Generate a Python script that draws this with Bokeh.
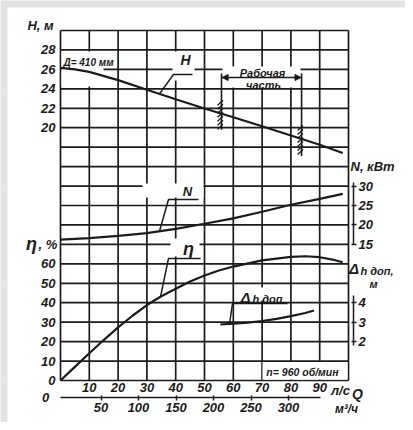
import numpy as np
from bokeh.plotting import figure
from bokeh.models import Range1d, LinearAxis, FixedTicker, Arrow, NormalHead
from bokeh.core.properties import value
from bokeh.embed import file_html
from bokeh.resources import INLINE

# ---------------- data ----------------
q_head = [0, 5, 10, 20, 30, 40, 50, 60, 70, 80, 90, 98]
head_m = [26.15, 26.0, 25.75, 24.9, 23.9, 22.93, 21.98, 21.07, 20.15, 19.2, 18.25, 17.4]

q_power = [0, 10, 20, 30, 40, 50, 60, 70, 80, 90, 98]
power_kw = [16.2, 16.6, 17.2, 17.9, 19.0, 20.3, 21.7, 23.4, 25.2, 26.7, 28.0]

q_eff = [0, 5, 10, 15, 20, 25, 30, 35, 40, 45, 50, 55, 60, 70, 80, 85, 90, 95, 98]
eff_pct = [0, 7.0, 14.0, 20.8, 27.3, 33.3, 38.8, 43.3, 47.2, 50.9, 54.0, 56.6, 58.6, 61.8,
           63.6, 63.9, 63.4, 62.0, 60.8]

q_npsh = [55.5, 60, 65, 70, 75, 80, 85, 88]
npsh_m = [2.88, 2.92, 2.98, 3.06, 3.17, 3.31, 3.47, 3.6]

work_zone_q = [55.9, 83.7]          # "Рабочая часть" limits, л/с

q_ticks = [10, 20, 30, 40, 50, 60, 70, 80, 90]
q_m3h_ticks = [50, 100, 150, 200, 250, 300]
head_ticks = [20, 22, 24, 26, 28]
eff_ticks = [0, 10, 20, 30, 40, 50, 60]
power_ticks = [15, 20, 25, 30]
npsh_ticks = [2, 3, 4]

grid_q = list(range(0, 101, 10))     # vertical grid lines (л/с)
grid_rows = list(range(0, 19))       # horizontal grid rows

# ---------------- layout (page pixels) ----------------
PAGE = 0
W, H = 405, 422
CX0, CX1 = 60, 348       # chart frame left/right (page px)
CY0, CY1 = 30, 380       # chart frame top/bottom (page px)
KX = (CX1 - CX0) / 100.0
KY = (CY1 - CY0) / 18.0

def qx(xp):
    return (xp - CX0) / KX

def gy(yp):
    return (CY1 - yp) / KY

x_start, x_end = qx(PAGE), qx(PAGE + W)
y_start, y_end = gy(PAGE + H), gy(PAGE)

# each scale: value at grid row 0 and value per grid row
SC_H = (-6.0, 2.0)
SC_ETA = (0.0, 10.0)
SC_N = (-20.0, 5.0)
SC_DH = (0.0, 1.0)

def rng(sc):
    return Range1d(sc[0] + sc[1] * y_start, sc[0] + sc[1] * y_end)

def to_g(v, sc):
    return (v - sc[0]) / sc[1]

def from_g(g, sc):
    return sc[0] + sc[1] * g

# m3/h axis calibration as drawn on the reference
M0, MK = 63.0, 0.75
def mx(xp):
    return (xp - M0) / MK

FONT = "Liberation Sans"
INK = "#1b1b1b"
PAPER_EDGE = "#e3e3e3"

p = figure(width=W, height=H, x_range=Range1d(x_start, x_end), y_range=Range1d(y_start, y_end),
           output_backend="svg", toolbar_location=None, x_axis_location=None, y_axis_location=None,
           min_border=0, outline_line_color=None, background_fill_color=PAPER_EDGE,
           border_fill_color=PAPER_EDGE)
p.extra_y_ranges = {"H": rng(SC_H), "eta": rng(SC_ETA), "N": rng(SC_N), "dh": rng(SC_DH)}
p.extra_x_ranges = {"m3h": Range1d(mx(PAGE), mx(PAGE + W))}

# white sheet
p.quad(left=[qx(7)], right=[qx(408)], top=[gy(7)], bottom=[gy(427)],
       fill_color="white", line_color=None)

# ---------------- grid ----------------
p.segment(x0=grid_q, y0=[0] * len(grid_q), x1=grid_q, y1=[18] * len(grid_q),
          line_color=INK, line_width=1.7)
p.segment(x0=[0] * len(grid_rows), y0=grid_rows, x1=[100] * len(grid_rows), y1=grid_rows,
          line_color=INK, line_width=1.7)

# white gaps in the grid behind captions (page px boxes)
gaps = [(61, 103, 51, 86), (172, 194, 51, 80), (222, 300, 66, 87), (142, 203, 183, 197),
        (170, 199, 238, 256), (236, 286, 287, 300), (262, 347, 361.5, 379)]
p.quad(left=[qx(g[0]) for g in gaps], right=[qx(g[1]) for g in gaps],
       top=[gy(g[2]) for g in gaps], bottom=[gy(g[3]) for g in gaps],
       fill_color="white", line_color=None)

# ---------------- curves ----------------
p.line(q_head, head_m, y_range_name="H", line_color=INK, line_width=2.2)
p.line(q_power, power_kw, y_range_name="N", line_color=INK, line_width=2.2)
p.line(q_eff, eff_pct, y_range_name="eta", line_color=INK, line_width=2.2)
p.line(q_npsh, npsh_m, y_range_name="dh", line_color=INK, line_width=2.2)

# ---------------- leaders ----------------
def leader(x_end_p, y_p, x_knee_p, x_curve_p, qs, vs, sc):
    qc = qx(x_curve_p)
    gc = to_g(np.interp(qc, qs, vs), sc)
    p.line([qx(x_end_p), qx(x_knee_p), qc], [gy(y_p), gy(y_p), gc],
           line_color=INK, line_width=1.5)

leader(192, 74, 173, 159, q_head, head_m, SC_H)
leader(198, 199, 168, 159, q_power, power_kw, SC_N)
leader(200, 258, 168, 160, q_eff, eff_pct, SC_ETA)
leader(287, 303, 232, 229, q_npsh, npsh_m, SC_DH)

# ---------------- working zone markers ----------------
for i, qz in enumerate(work_zone_q):
    gc = to_g(np.interp(qz, q_head, head_m), SC_H)
    below = 17 if i else 16
    p.line([qz, qz], [gy(73), gc - below / KY], line_color=INK, line_width=1.6)
    ys = np.arange(-11, below, 4.0)
    xs0 = [qz - 4 / KX] * len(ys)
    xs1 = [qz + 1.5 / KX] * len(ys)
    y0 = [gc - (y + 2.5) / KY for y in ys]
    y1 = [gc - (y - 2.5) / KY for y in ys]
    p.segment(x0=xs0, y0=y0, x1=xs1, y1=y1, line_color=INK, line_width=1.3)

p.add_layout(Arrow(start=NormalHead(size=6, fill_color=INK, line_color=INK),
                   end=NormalHead(size=6, fill_color=INK, line_color=INK),
                   x_start=work_zone_q[0] + 0.2, y_start=gy(77),
                   x_end=work_zone_q[1] - 0.2, y_end=gy(77),
                   line_color=INK, line_width=1.3))

# ---------------- texts ----------------
def label(xp, yp, txt, size=13, align="center", style="bold italic"):
    p.text(x=[qx(xp)], y=[gy(yp)], text=[txt], text_font=value(FONT),
           text_font_size=value(f"{size}px"), text_font_style=style,
           text_align=align, text_baseline="middle", text_color=INK)

label(40, 25, "H, м", 13)
label(31, 243, "η", 18)
label(38, 244, ", %", 13, "left")
label(88, 62, "Д= 410 мм", 10)
label(185, 59, "H", 14)
label(262, 72, "Рабочая", 11)
label(263, 84, "часть", 11)
label(187, 191, "N", 13)
label(188, 248, "η", 18)
label(245, 297, "Δ", 15)
label(252, 298, "h доп", 11, "left")
label(302, 371, "n= 960 об/мин", 10.5)
label(350, 166, "N, кВт", 13, "left")
label(353.5, 268, "Δ", 15)
label(360, 270, "h доп,", 11, "left")
label(373, 283, "м", 11)
label(45, 397, "0", 13)
label(340, 390, "л/с", 13)
label(357, 393, "Q", 14)
label(346, 408, "м³/ч", 12)

# ---------------- axes ----------------
def style_axis(ax, size="13px"):
    ax.major_label_text_font = FONT
    ax.major_label_text_font_style = "bold italic"
    ax.major_label_text_font_size = size
    ax.major_label_text_color = INK
    ax.minor_tick_line_color = None
    ax.axis_line_color = INK
    ax.axis_line_width = 1.5
    ax.major_tick_line_color = INK
    ax.major_tick_line_width = 1.5

def plain(ax, standoff):
    ax.axis_line_color = None
    ax.major_tick_line_color = None
    ax.major_tick_in = 0
    ax.major_tick_out = 0
    ax.major_label_standoff = standoff

ax_h = LinearAxis(y_range_name="H", ticker=FixedTicker(ticks=head_ticks), fixed_location=0)
style_axis(ax_h); plain(ax_h, 5)
p.add_layout(ax_h, "left")

ax_eta = LinearAxis(y_range_name="eta", ticker=FixedTicker(ticks=eff_ticks), fixed_location=0)
style_axis(ax_eta); plain(ax_eta, 5)
p.add_layout(ax_eta, "left")

ax_n = LinearAxis(y_range_name="N", ticker=FixedTicker(ticks=power_ticks), fixed_location=qx(353),
                  bounds=(from_g(gy(244), SC_N), from_g(gy(182), SC_N)))
style_axis(ax_n)
ax_n.major_tick_in = 2; ax_n.major_tick_out = 3; ax_n.major_label_standoff = 2
p.add_layout(ax_n, "right")

ax_dh = LinearAxis(y_range_name="dh", ticker=FixedTicker(ticks=npsh_ticks), fixed_location=qx(353),
                   bounds=(from_g(gy(345), SC_DH), from_g(gy(295), SC_DH)))
style_axis(ax_dh)
ax_dh.major_tick_in = 2; ax_dh.major_tick_out = 3; ax_dh.major_label_standoff = 2
p.add_layout(ax_dh, "right")

ax_q = LinearAxis(ticker=FixedTicker(ticks=q_ticks), fixed_location=0)
style_axis(ax_q); plain(ax_q, 2)
p.add_layout(ax_q, "below")

ax_m = LinearAxis(x_range_name="m3h", ticker=FixedTicker(ticks=q_m3h_ticks), fixed_location=gy(397),
                  bounds=(mx(60), mx(320)))
style_axis(ax_m)
ax_m.major_tick_in = 2; ax_m.major_tick_out = 3; ax_m.major_label_standoff = 2
p.add_layout(ax_m, "below")

html = file_html(p, INLINE, title="Pump characteristic")
html = html.replace("<body>", '<body style="background:#e3e3e3;">', 1)
open("out.html", "w").write(html)
